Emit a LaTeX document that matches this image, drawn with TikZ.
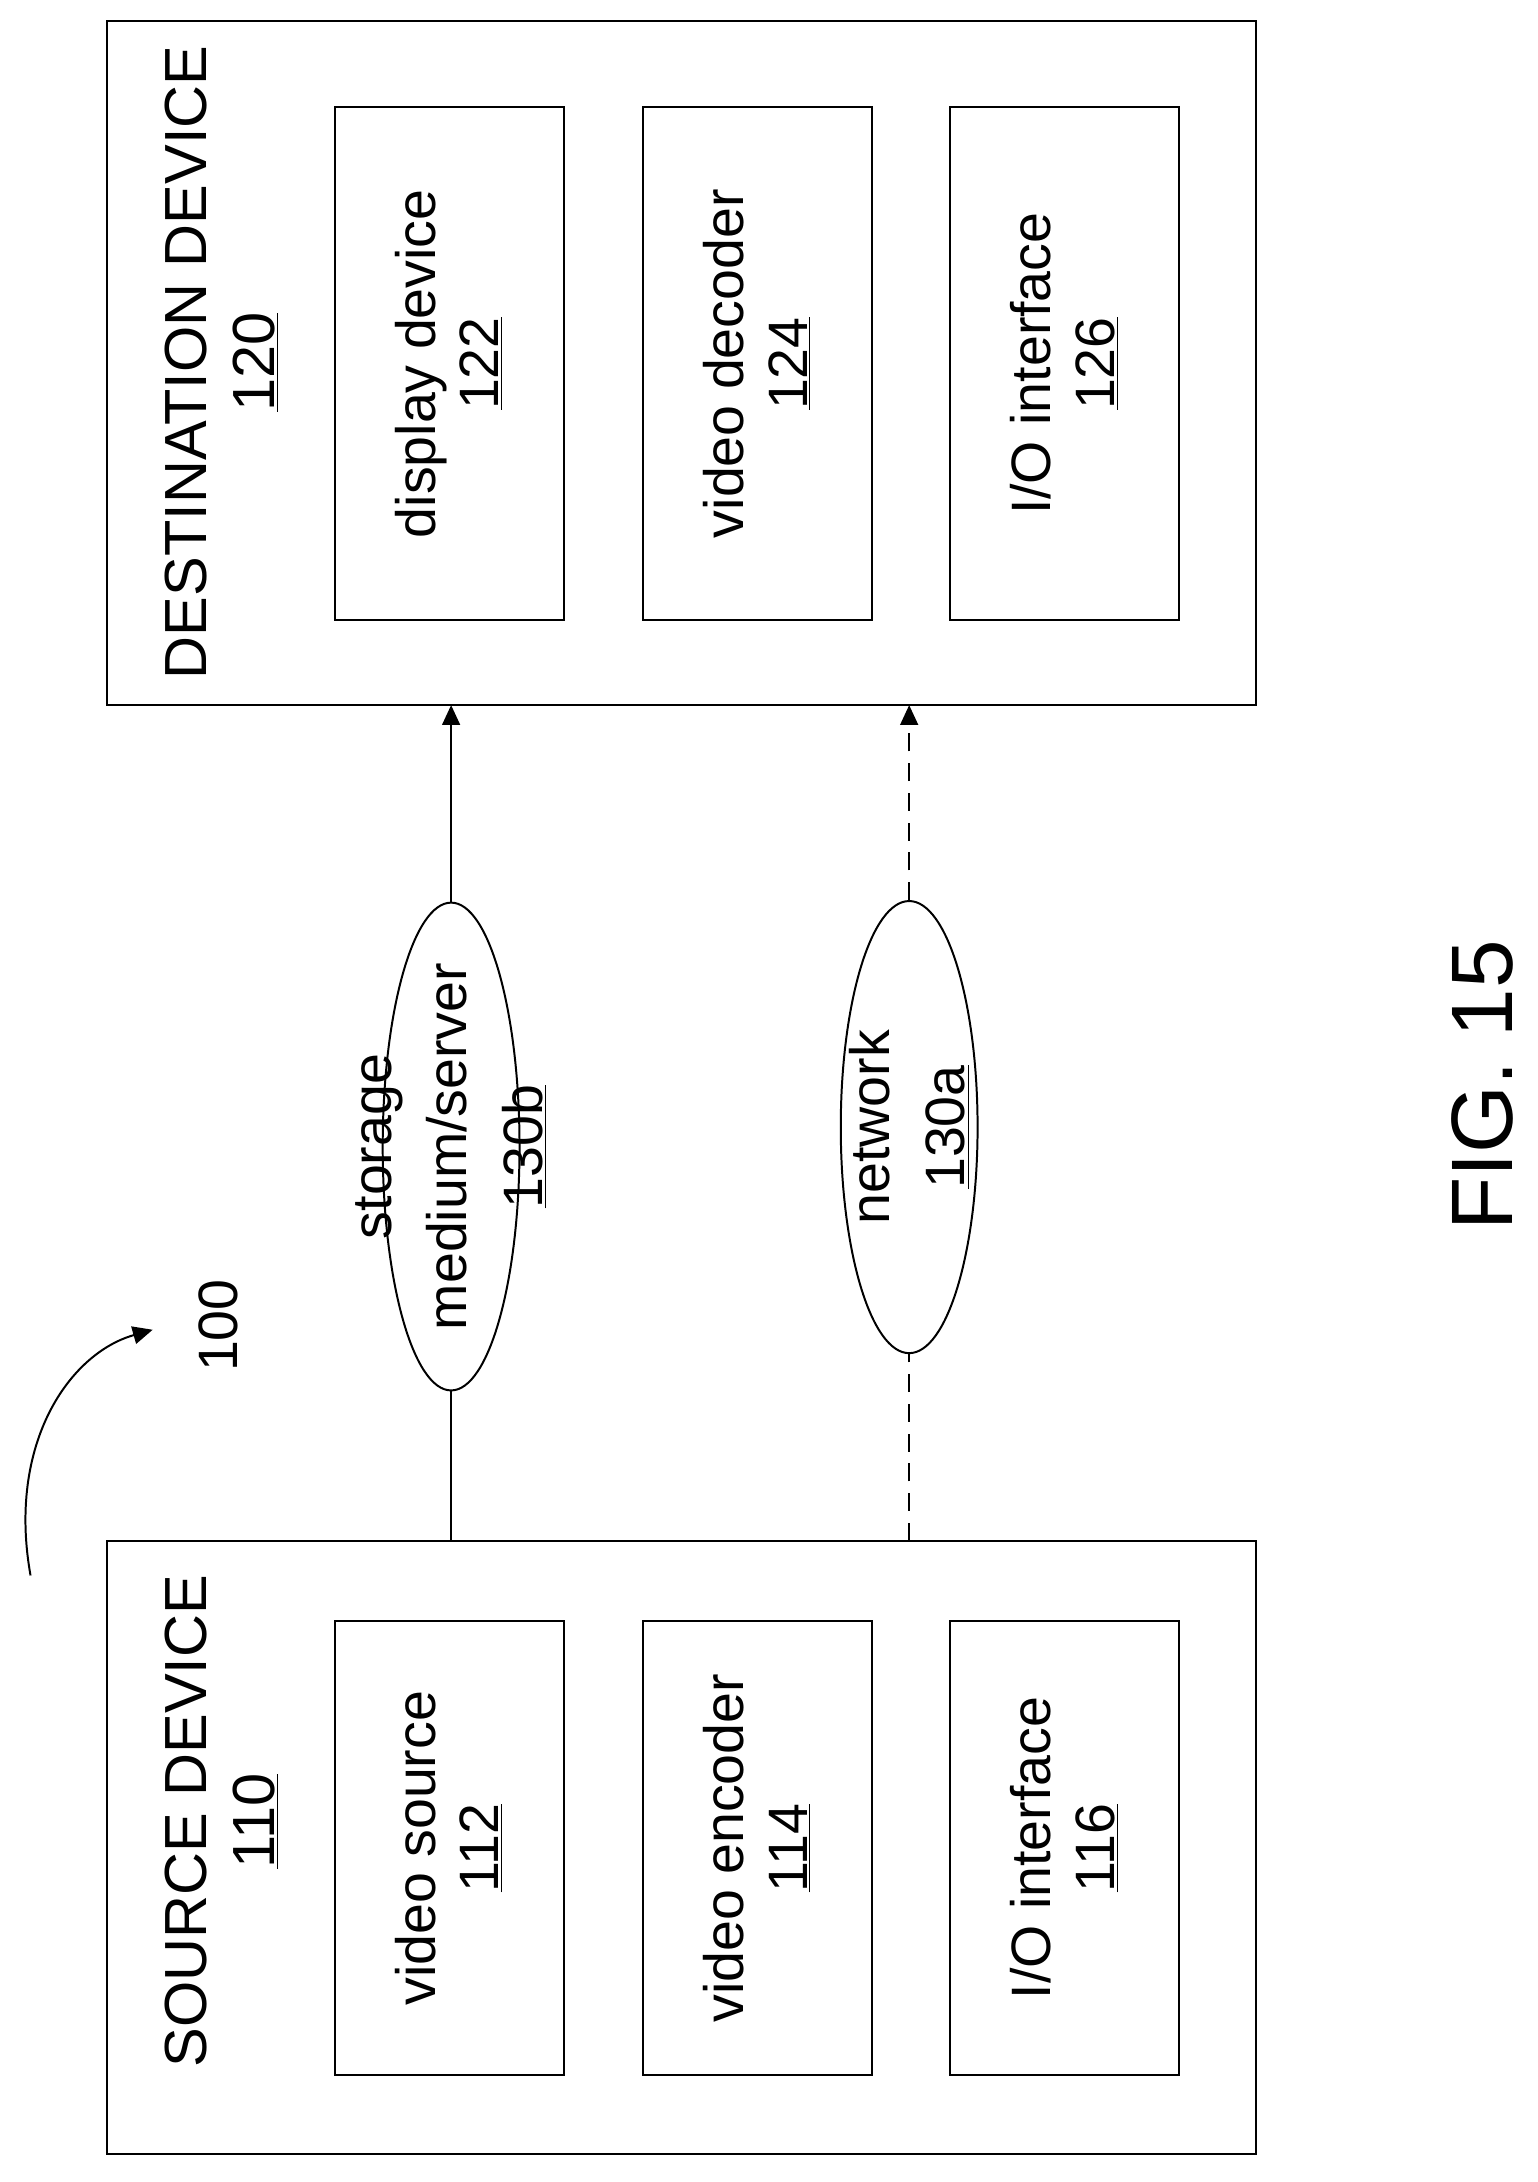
\documentclass[tikz,border=0pt]{standalone}
\usepackage{fontspec}
\setmainfont{Liberation Sans}
\usetikzlibrary{shapes.geometric,arrows.meta}
\begin{document}
\begin{tikzpicture}[x=0.7pt,y=-0.7pt,
  box/.style={draw,line width=1pt,inner sep=0},
  lbl/.style={rotate=90,align=center,font=\fontsize{28}{32}\selectfont},
  elbl/.style={rotate=90,align=center,font=\fontsize{28}{38}\selectfont},
  big/.style={rotate=90,align=center,font=\fontsize{30}{34}\selectfont},
  ell/.style={draw,line width=1pt,ellipse,inner sep=0},
  arr/.style={line width=1pt,-{Triangle[length=10pt,width=9pt]}}]
\useasboundingbox (0,0) rectangle (1108,1572);
% destination
\node[box,minimum width=579.6pt,minimum height=345.1pt] (dest) at (491,261.5) {};
\node[big] (destl) at (160,261) {DESTINATION DEVICE\\\underline{120}};
\node[box,minimum width=115.5pt,minimum height=259pt] (d1) at (323.5,262) {};
\node[lbl] at (d1) {display device\\\underline{122}};
\node[box,minimum width=115.5pt,minimum height=259pt] (d2) at (545.5,262) {};
\node[lbl] at (d2) {video decoder\\\underline{124}};
\node[box,minimum width=115.5pt,minimum height=259pt] (d3) at (767,262) {};
\node[lbl] at (d3) {I/O interface\\\underline{126}};
% source
\node[box,minimum width=579.6pt,minimum height=309.4pt] (src) at (491,1331) {};
\node[big] (srcl) at (160,1312) {SOURCE DEVICE\\\underline{110}};
\node[box,minimum width=115.5pt,minimum height=229pt] (s1) at (323.5,1331.5) {};
\node[lbl] at (s1) {video source\\\underline{112}};
\node[box,minimum width=115.5pt,minimum height=229pt] (s2) at (545.5,1331.5) {};
\node[lbl] at (s2) {video encoder\\\underline{114}};
\node[box,minimum width=115.5pt,minimum height=229pt] (s3) at (767,1331.5) {};
\node[lbl] at (s3) {I/O interface\\\underline{116}};
% ellipses
\node[ell,minimum width=69pt,minimum height=246pt] (stor) at (325,826) {};
\node[elbl] at (stor) {storage\\medium/server\\\underline{130b}};
\node[ell,minimum width=69pt,minimum height=228pt] (net) at (655,812) {};
\node[elbl] at (net) {network\\\underline{130a}};
\coordinate (sa) at (325,1110); \coordinate (da) at (325,508);
\coordinate (sb) at (655,1110); \coordinate (db) at (655,508);
\draw[line width=1pt] (sa) -- (stor.south);
\draw[arr] (stor.north) -- (da);
\draw[line width=1pt,dash pattern=on 9pt off 6pt] (sb) -- (net.south);
\draw[arr,dash pattern=on 9pt off 6pt] (net.north) -- (db);
% 100
\coordinate (c0) at (22,1135); \coordinate (c1) at (110,958);
\draw[arr] (c0) .. controls (5,1040) and (50,975) .. (c1);
\node[lbl] (n100) at (157,955) {100};
\node[rotate=90,font=\fontsize{44}{48}\selectfont] (fig) at (1068,782) {FIG. 15};
\end{tikzpicture}
\end{document}
